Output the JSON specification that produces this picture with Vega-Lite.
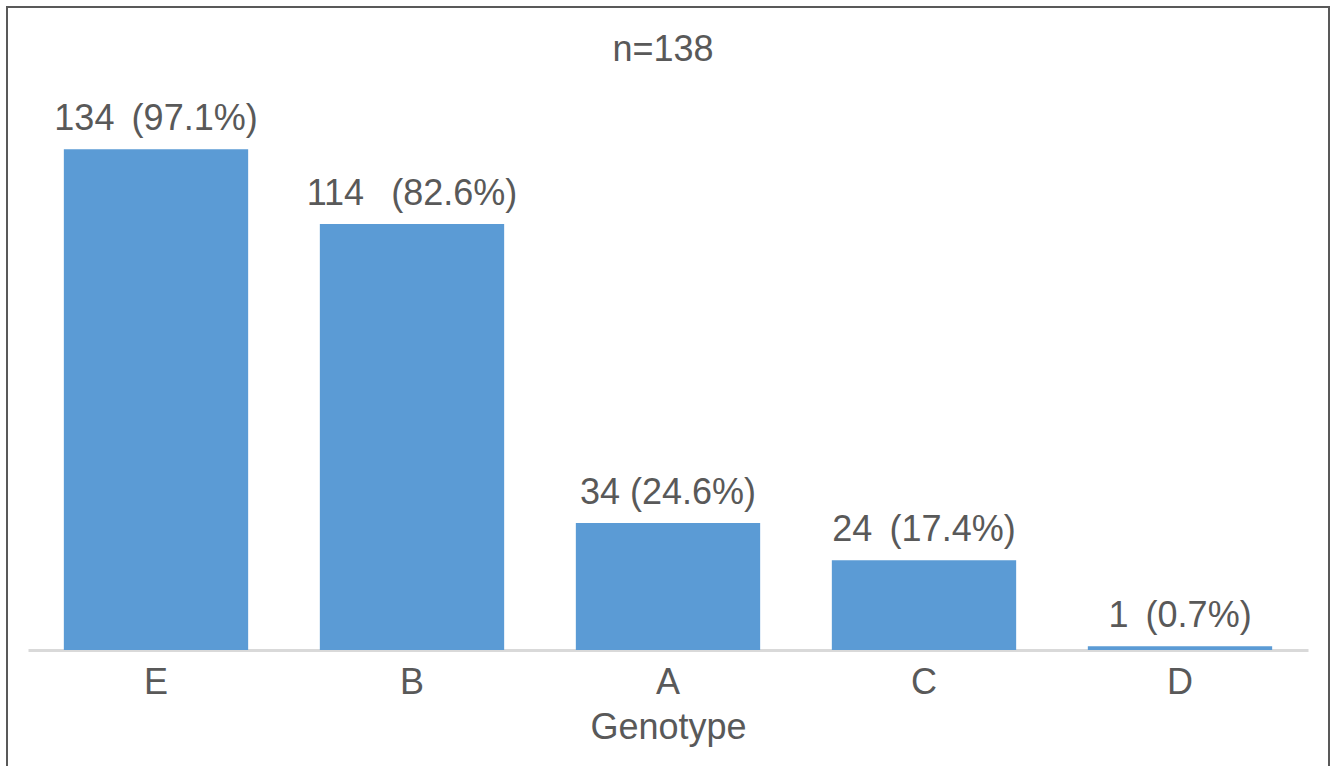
{
  "$schema": "https://vega.github.io/schema/vega-lite/v6.json",
  "autosize": "none",
  "padding": {"left": 7, "top": 7, "right": 8, "bottom": 0},
  "width": 1322,
  "height": 780,
  "background": "white",
  "config": {
    "font": "Liberation Sans",
    "view": {"stroke": "#595959", "strokeWidth": 2}
  },
  "title": {
    "text": "n=138",
    "fontSize": 36,
    "fontWeight": "normal",
    "color": "#595959",
    "anchor": "middle",
    "baseline": "alphabetic",
    "offset": -55,
    "dx": -5,
    "dy": 35
  },
  "data": {
    "values": [
      {"genotype": "E", "count": 134, "label": "134 \u2009(97.1%)"},
      {"genotype": "B", "count": 114, "label": "114 \u00a0\u2009(82.6%)"},
      {"genotype": "A", "count": 34, "label": "34 (24.6%)"},
      {"genotype": "C", "count": 24, "label": "24 \u2009(17.4%)"},
      {"genotype": "D", "count": 1, "label": "1 \u2009(0.7%)"}
    ]
  },
  "encoding": {
    "x": {
      "field": "genotype",
      "type": "nominal",
      "sort": null,
      "scale": {"range": [21, 1301], "paddingInner": 0.28, "paddingOuter": 0.14},
      "axis": {
        "title": "Genotype",
        "labelAngle": 0,
        "labelFontSize": 36,
        "labelColor": "#595959",
        "labelBaseline": "alphabetic",
        "labelPadding": 43,
        "ticks": false,
        "tickSize": 0,
        "domainColor": "#d9d9d9",
        "domainWidth": 3,
        "titleFontSize": 36,
        "titleFontWeight": "normal",
        "titleColor": "#595959",
        "titlePadding": 10,
        "offset": -137
      }
    },
    "y": {
      "field": "count",
      "type": "quantitative",
      "scale": {"domain": [0, 160], "range": [643, 45], "nice": false},
      "axis": null
    }
  },
  "layer": [
    {"mark": {"type": "bar", "color": "#5b9bd5"}},
    {
      "mark": {
        "type": "text",
        "fontSize": 36,
        "color": "#595959",
        "align": "center",
        "baseline": "alphabetic",
        "dy": -19
      },
      "encoding": {"text": {"field": "label"}}
    }
  ]
}
